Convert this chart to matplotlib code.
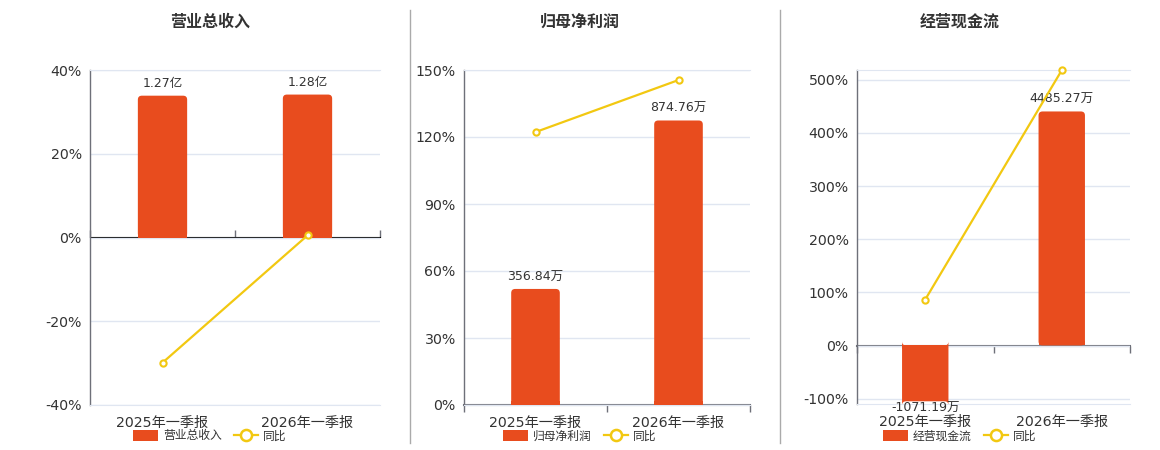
import matplotlib
matplotlib.use("Agg")
import matplotlib.pyplot as plt
from matplotlib.patches import FancyBboxPatch, Rectangle, Patch
from matplotlib.lines import Line2D
import numpy as np

plt.rcParams['font.family'] = ['DejaVu Sans', 'Noto Sans CJK SC']

# ---------------- data ----------------
categories = ["2025年一季报", "2026年一季报"]

titles = ["营业总收入", "归母净利润", "经营现金流"]

revenue_values = [1.27, 1.28]          # 亿
revenue_yoy = [-29.9, 0.5]             # %
revenue_unit = "亿"

profit_values = [356.84, 874.76]       # 万
profit_yoy = [122.2, 145.5]            # %
profit_unit = "万"

cash_values = [-1071.19, 4485.27]      # 万
cash_yoy = [86.6, 518.0]               # %
cash_unit = "万"

revenue_ticks = [-40, -20, 0, 20, 40]
profit_ticks = [0, 30, 60, 90, 120, 150]
cash_ticks = [-100, 0, 100, 200, 300, 400, 500]

# ---------------- style ----------------
W, H = 1160, 450
BAR_C = "#E84C1E"
LINE_C = "#F2C811"
GRID_C = "#E0E6F1"
AXIS_C = "#6E7079"
TEXT_C = "#333333"

fig = plt.figure(figsize=(W / 100, H / 100), dpi=100)

# panel layout in pixels: left, right, top, bottom
panels = [
    dict(px=(90, 380, 70, 405), vals=revenue_values, yoy=revenue_yoy, unit=revenue_unit,
         ticks=revenue_ticks, ylim=(-40, 40), blim=(-1.5, 1.5), title=titles[0], tx=210),
    dict(px=(464, 750, 70, 405), vals=profit_values, yoy=profit_yoy, unit=profit_unit,
         ticks=profit_ticks, ylim=(0, 150), blim=(0, 1030), title=titles[1], tx=580),
    dict(px=(857, 1130, 70, 404), vals=cash_values, yoy=cash_yoy, unit=cash_unit,
         ticks=cash_ticks, ylim=(-110, 518.5), blim=(-1123, 5280), title=titles[2], tx=960),
]


def rounded_bars(bax, bars, radius_px):
    # replace bars by rectangles with rounded far end, square base
    x0, x1 = bax.get_xlim()
    y0, y1 = bax.get_ylim()
    pos = bax.get_position()
    xpp = (x1 - x0) / (pos.width * W)
    ypp = (y1 - y0) / (pos.height * H)
    for r in bars:
        x, y, w, h = r.get_x(), r.get_y(), r.get_width(), r.get_height()
        r.set_visible(False)
        rad = radius_px * xpp
        fb = FancyBboxPatch((x, y), w, h,
                            boxstyle=f"round,pad=0,rounding_size={rad}",
                            mutation_aspect=ypp / xpp,
                            facecolor=BAR_C, edgecolor="none", zorder=2)
        bax.add_patch(fb)
        sq_h = np.sign(h) * min(abs(h), radius_px * ypp)
        bax.add_patch(Rectangle((x, y), w, sq_h, facecolor=BAR_C, edgecolor="none", zorder=2))


for p in panels:
    l, r, t, b = p["px"]
    ax = fig.add_axes([l / W, (H - b) / H, (r - l) / W, (b - t) / H])
    x = np.arange(len(categories))

    # line axis (left)
    ax.set_xlim(-0.5, len(categories) - 0.5)
    ax.set_ylim(*p["ylim"])
    ax.set_yticks(p["ticks"])
    ax.set_yticklabels([f"{v}%" for v in p["ticks"]])
    ax.yaxis.grid(True, color=GRID_C, linewidth=1)
    ax.set_axisbelow(True)
    ax.tick_params(axis="y", length=0, labelsize=10.2, labelcolor=TEXT_C, pad=6)
    ax.set_xticks(x)
    ax.set_xticklabels(categories)
    ax.tick_params(axis="x", length=0, labelsize=10.2, labelcolor=TEXT_C, pad=8)
    ax.spines["right"].set_visible(False)
    ax.spines["top"].set_color(GRID_C)
    ax.spines["bottom"].set_color(GRID_C)
    ax.spines["left"].set_color(AXIS_C)
    ax.spines["left"].set_linewidth(1)

    # bar axis (hidden)
    bax = ax.twinx()
    bax.set_ylim(*p["blim"])
    bax.set_xlim(-0.5, len(categories) - 0.5)
    bax.axis("off")
    bars = bax.bar(x, p["vals"], width=0.34, color=BAR_C, zorder=2)
    rounded_bars(bax, bars, 4)
    for xi, v in zip(x, p["vals"]):
        if v >= 0:
            bax.annotate(f"{v:.2f}{p['unit']}", (xi, v), xytext=(0, 4), textcoords="offset points",
                         ha="center", va="bottom", fontsize=9, color=TEXT_C, zorder=5)
        else:
            bax.annotate(f"{v:.2f}{p['unit']}", (xi, v), xytext=(0, -0.5), textcoords="offset points",
                         ha="center", va="top", fontsize=9, color=TEXT_C, zorder=5)

    # zero axis with category boundary ticks
    ymin, ymax = p["ylim"]
    loc = (0 - ymin) / (ymax - ymin)
    sec = ax.secondary_xaxis(loc)
    sec.set_xticks(np.arange(-0.5, len(categories), 1.0))
    sec.set_xticklabels([])
    sec.tick_params(axis="x", direction="out", length=5, color=AXIS_C, width=1)
    sec.spines["bottom"].set_color(AXIS_C)
    sec.spines["bottom"].set_linewidth(1.5)

    # yoy line on top
    lax = ax.twinx()
    lax.set_ylim(*p["ylim"])
    lax.set_xlim(-0.5, len(categories) - 0.5)
    lax.axis("off")
    lax.plot(x, p["yoy"], color=LINE_C, linewidth=1.6, marker="o", markersize=4.5,
             markerfacecolor="white", markeredgecolor=LINE_C, markeredgewidth=1.5, zorder=4,
             clip_on=False)

    # title
    fig.text(p["tx"] / W, 1 - 22 / H, p["title"], ha="center", va="center", fontsize=11.5,
             fontweight="bold", color=TEXT_C, family=["Noto Sans CJK SC", "DejaVu Sans"])

    # legend
    handles = [Patch(facecolor=BAR_C, edgecolor="none", label=p["title"]),
               Line2D([0], [0], color=LINE_C, linewidth=1.6, marker="o", markersize=8,
                      markerfacecolor="white", markeredgecolor=LINE_C, markeredgewidth=1.8, label="同比")]
    leg = fig.legend(handles=handles, loc="center", bbox_to_anchor=(p["tx"] / W, 1 - 436 / H),
                     ncol=2, frameon=False, handlelength=2.1, handleheight=1.1,
                     handletextpad=0.4, columnspacing=1.0, borderaxespad=0,
                     prop={"family": ["Noto Sans CJK SC", "DejaVu Sans"], "size": 8.5})
    for txt in leg.get_texts():
        txt.set_color(TEXT_C)

# separators
for sx in [410, 780]:
    fig.add_artist(Line2D([sx / W, sx / W], [1 - 10 / H, 1 - 443 / H], color="#AAAAAA", linewidth=1))

fig.savefig("out.png", dpi=100, facecolor="white")
